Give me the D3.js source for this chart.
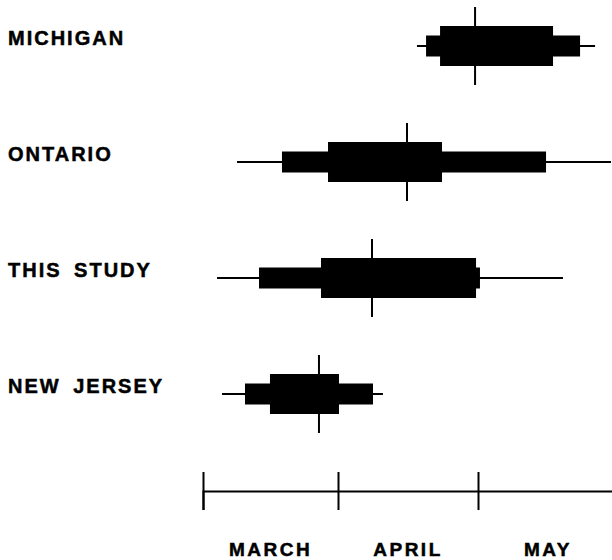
<!DOCTYPE html>
<html lang="en">
<head>
    <meta charset="UTF-8">
    <title></title>
	<script src="https://d3js.org/d3.v7.min.js"></script>
	<style>
		body{margin:0;background:#fff;}
		text{font-family:"Liberation Sans",Arial,sans-serif;font-weight:bold;fill:#000;stroke:#000;stroke-width:0.5px;}
	</style>
	<script>
		// months counted from March 1 (0 = Mar 1, 1 = Apr 1, 2 = May 1)
		var places=["MICHIGAN","ONTARIO","THIS STUDY","NEW JERSEY"];
		var rangeStart=[1.564,0.252,0.104,0.141];
		var rangeEnd=[2.836,2.95,2.607,1.321];
		var midStart=[1.629,0.585,0.415,0.311];
		var midEnd=[2.729,2.486,2.014,1.25];
		var coreStart=[1.729,0.926,0.874,0.496];
		var coreEnd=[2.536,1.743,1.986,1.007];
		var peak=[1.979,1.493,1.243,0.859];
		var months=["MARCH","APRIL","MAY"];
		var monthTicks=[0,1,2];

		function draw(){
			var svg=d3.select("body").append("svg").attr("width",612).attr("height",560);
			var rows=places.map(function(p,i){
				return {name:p,r0:rangeStart[i],r1:rangeEnd[i],m0:midStart[i],m1:midEnd[i],c0:coreStart[i],c1:coreEnd[i],pk:peak[i]};
			});
			// hand drawn months are not all the same width
			var x=d3.scaleLinear().domain([0,1,2,3]).range([203,338,478,618]);
			var y=d3.scalePoint().domain(places).range([46,394]);

			var g=svg.selectAll(".row").data(rows).enter().append("g")
				.attr("class","row")
				.attr("transform",function(d){return "translate(0,"+y(d.name)+")";});
			g.append("line")
				.attr("x1",function(d){return x(d.r0);})
				.attr("x2",function(d){return x(d.r1);})
				.attr("y1",0).attr("y2",0)
				.style("stroke","#000").style("stroke-width",2);
			g.append("rect")
				.attr("x",function(d){return x(d.m0);})
				.attr("width",function(d){return x(d.m1)-x(d.m0);})
				.attr("y",-10.5).attr("height",21)
				.style("fill","#000");
			g.append("rect")
				.attr("x",function(d){return x(d.c0);})
				.attr("width",function(d){return x(d.c1)-x(d.c0);})
				.attr("y",-20).attr("height",40)
				.style("fill","#000");
			g.append("line")
				.attr("x1",function(d){return x(d.pk);})
				.attr("x2",function(d){return x(d.pk);})
				.attr("y1",-39).attr("y2",39)
				.style("stroke","#000").style("stroke-width",2);
			g.append("text")
				.attr("x",8).attr("y",-1)
				.attr("font-size","20px")
				.style("letter-spacing","2px")
				.style("word-spacing","5px")
				.text(function(d){return d.name;});

			var axis=svg.append("g")
				.attr("transform","translate(0,491)")
				.call(d3.axisBottom(x).tickValues(monthTicks).tickSizeOuter(0).tickSize(19).tickFormat(""));
			axis.select(".domain").style("stroke","#000").style("stroke-width",2);
			axis.selectAll(".tick line").attr("y1",-19).style("stroke","#000").style("stroke-width",2);

			svg.selectAll(".month").data(months).enter().append("text")
				.attr("class","month")
				.attr("x",function(d,i){return x(i+0.5);})
				.attr("y",556)
				.attr("text-anchor","middle")
				.attr("font-size","19px")
				.style("letter-spacing","2.5px")
				.text(function(d){return d;});
		}
	</script>
</head>
<body onLoad="draw()">
</body>
</html>
